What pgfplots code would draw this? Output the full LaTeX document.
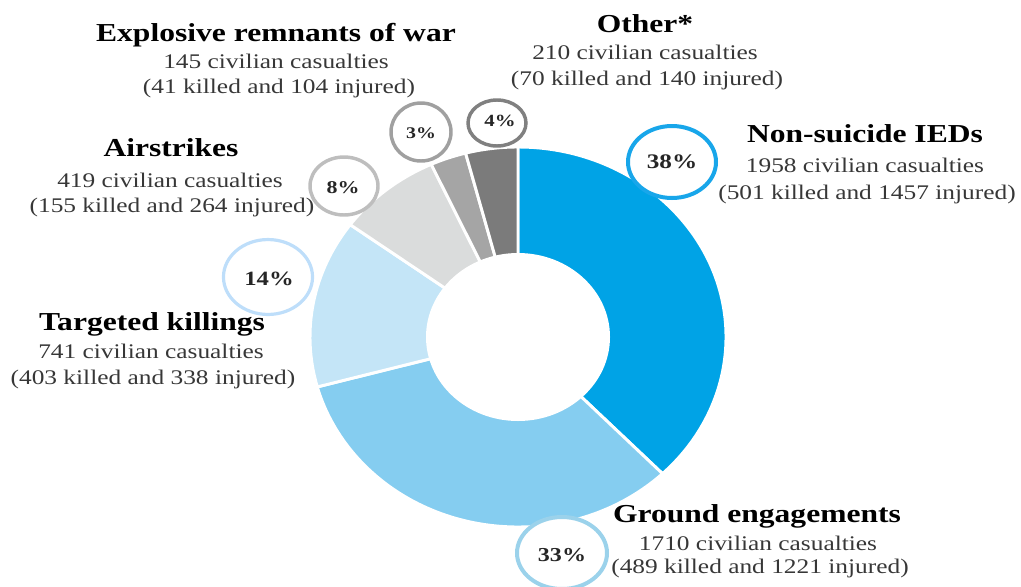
\documentclass[border=0pt]{standalone}
\usepackage{pgfplots}
\pgfplotsset{compat=1.18}
\usepackage{pgfplotstable}
\usepackage{fontspec}
\setmainfont[FakeStretch=1.22]{Liberation Serif}

\definecolor{cIED}{RGB}{0,163,230}
\definecolor{cGround}{RGB}{133,205,240}
\definecolor{cTK}{RGB}{196,229,247}
\definecolor{cAir}{RGB}{218,220,220}
\definecolor{cERW}{RGB}{165,165,165}
\definecolor{cOther}{RGB}{123,123,123}
\definecolor{bIED}{RGB}{24,166,234}
\definecolor{bGround}{RGB}{155,210,235}
\definecolor{bTK}{RGB}{190,222,250}
\definecolor{bAir}{RGB}{190,190,190}
\definecolor{bERW}{RGB}{160,160,160}
\definecolor{bOther}{RGB}{128,128,128}
\definecolor{txt}{RGB}{55,55,55}

\pgfplotstableread{
name value color
IED 1958 cIED
Ground 1710 cGround
Targeted 741 cTK
Airstrikes 419 cAir
ERW 145 cERW
Other 210 cOther
}\donutdata

\newcommand{\ttl}{\bfseries\fontsize{19.4}{23}\selectfont}
\newcommand{\reg}{\fontsize{15.6}{18}\selectfont\color{txt}}

\begin{document}
\begin{tikzpicture}
\pgfmathsetmacro\total{0}
\pgfplotsforeachungrouped \i in {0,...,5}{%
  \pgfplotstablegetelem{\i}{value}\of\donutdata
  \pgfmathsetmacro\total{\total+\pgfplotsretval}%
}
\def\cum{0}
\pgfplotsforeachungrouped \i in {0,...,5}{%
  \pgfplotstablegetelem{\i}{value}\of\donutdata
  \let\segval\pgfplotsretval
  \pgfmathsetmacro\angstart{90-360*(\cum/\total)}%
  \pgfmathsetmacro\cum{\cum+\segval}%
  \pgfmathsetmacro\angend{90-360*(\cum/\total)}%
  \expandafter\xdef\csname angA\i\endcsname{\angstart}%
  \expandafter\xdef\csname angB\i\endcsname{\angend}%
  \pgfplotstablegetelem{\i}{color}\of\donutdata
  \expandafter\xdef\csname col\i\endcsname{\pgfplotsretval}%
}
\begin{axis}[
  width=765.75pt, height=439.5pt, scale only axis,
  hide axis, clip=false,
  xmin=0, xmax=1021, ymin=0, ymax=586, y dir=reverse,
]
\pgfplotsinvokeforeach{0,...,5}{%
  \edef\wedgecmd{\noexpand\fill[fill=\csname col#1\endcsname, draw=white, line width=2.2pt, line join=round]
    (axis cs:518,337) -- ++(\csname angA#1\endcsname:156pt and 142.5pt)
    arc[start angle=\csname angA#1\endcsname, end angle=\csname angB#1\endcsname, x radius=156pt, y radius=142.5pt] -- cycle;}%
  \wedgecmd
}
\fill[white] (axis cs:518,337) ellipse[x radius=69pt, y radius=63pt];

% bubbles
\draw[draw=bIED, line width=3pt, fill=white] (axis cs:672,162) ellipse[x radius=33pt, y radius=27pt];
\draw[draw=bGround, line width=3pt, fill=white] (axis cs:562,553) ellipse[x radius=33.75pt, y radius=27pt];
\draw[draw=bTK, line width=2.4pt, fill=white] (axis cs:268,277) ellipse[x radius=33.4pt, y radius=28.1pt];
\draw[draw=bAir, line width=2.6pt, fill=white] (axis cs:344,186) ellipse[x radius=25.5pt, y radius=21.75pt];
\draw[draw=bERW, line width=2.6pt, fill=white] (axis cs:421,132) ellipse[x radius=22.5pt, y radius=21.75pt];
\draw[draw=bOther, line width=2.6pt, fill=white] (axis cs:497,123) ellipse[x radius=21.75pt, y radius=17.25pt];

\node[inner sep=0, font=\bfseries\fontsize{15.5}{16}\selectfont, text=black!85] at (axis cs:672,162) {38\%};
\node[inner sep=0, font=\bfseries\fontsize{14.8}{16}\selectfont, text=black!85] at (axis cs:562,555) {33\%};
\node[inner sep=0, font=\bfseries\fontsize{15.2}{16}\selectfont, text=black!85] at (axis cs:269,279) {14\%};
\node[inner sep=0, font=\bfseries\fontsize{13.5}{14}\selectfont, text=black!85] at (axis cs:343,188) {8\%};
\node[inner sep=0, font=\bfseries\fontsize{12.2}{13}\selectfont, text=black!85] at (axis cs:421,133) {3\%};
\node[inner sep=0, font=\bfseries\fontsize{12.8}{14}\selectfont, text=black!85] at (axis cs:500,121) {4\%};

% labels
\node[anchor=base, inner sep=0, font=\ttl] at (axis cs:276,41) {Explosive remnants of war};
\node[anchor=base, inner sep=0, font=\reg] at (axis cs:276,68) {145 civilian casualties};
\node[anchor=base, inner sep=0, font=\reg] at (axis cs:279,93) {(41 killed and 104 injured)};

\node[anchor=base, inner sep=0, font=\ttl] at (axis cs:645,32.5) {Other*};
\node[anchor=base, inner sep=0, font=\reg] at (axis cs:645,59) {210 civilian casualties};
\node[anchor=base, inner sep=0, font=\reg] at (axis cs:647,85) {(70 killed and 140 injured)};

\node[anchor=base, inner sep=0, font=\ttl] at (axis cs:865,142.5) {Non-suicide IEDs};
\node[anchor=base, inner sep=0, font=\reg] at (axis cs:865,172) {1958 civilian casualties};
\node[anchor=base, inner sep=0, font=\reg] at (axis cs:867,199) {(501 killed and 1457 injured)};

\node[anchor=base, inner sep=0, font=\ttl] at (axis cs:171,156.5) {Airstrikes};
\node[anchor=base, inner sep=0, font=\reg] at (axis cs:170,187) {419 civilian casualties};
\node[anchor=base, inner sep=0, font=\reg] at (axis cs:172,212) {(155 killed and 264 injured)};

\node[anchor=base, inner sep=0, font=\ttl] at (axis cs:152,330) {Targeted killings};
\node[anchor=base, inner sep=0, font=\reg] at (axis cs:151,358) {741 civilian casualties};
\node[anchor=base, inner sep=0, font=\reg] at (axis cs:153,384) {(403 killed and 338 injured)};

\node[anchor=base, inner sep=0, font=\ttl] at (axis cs:757,522) {Ground engagements};
\node[anchor=base, inner sep=0, font=\reg] at (axis cs:758,550) {1710 civilian casualties};
\node[anchor=base, inner sep=0, font=\reg] at (axis cs:760,573) {(489 killed and 1221 injured)};
\end{axis}
\pgfresetboundingbox
\path[use as bounding box] (current axis.south west) rectangle (current axis.north east);
\end{tikzpicture}
\end{document}
